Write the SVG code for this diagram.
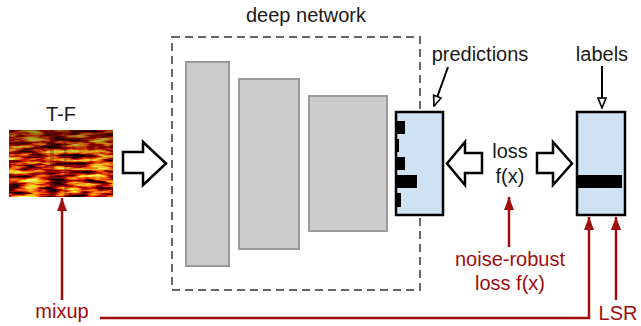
<svg xmlns="http://www.w3.org/2000/svg" width="641" height="326" viewBox="0 0 641 326">
<style>
text{font-family:"Liberation Sans",Arial,sans-serif;font-size:20px;fill:#1a1a1a;text-anchor:middle}
text.red{fill:#a00d0d}
.layer{fill:#cccccc;stroke:#9a9a9a;stroke-width:2}
.out{fill:#cfe2f3;stroke:#000;stroke-width:2.5}
.bar{fill:#000}
.block{fill:#fff;stroke:#000;stroke-width:2.5;stroke-linejoin:miter}
.ptr{fill:none;stroke:#000;stroke-width:2}
.redln{fill:none;stroke:#a00d0d;stroke-width:2.5}
</style>
<defs>
<marker id="open" markerUnits="userSpaceOnUse" viewBox="0 0 12 10" refX="11" refY="5" markerWidth="12" markerHeight="10" orient="auto">
<path d="M1,1 L11,5 L1,9 Z" fill="#fff" stroke="#000" stroke-width="1.6"/>
</marker>
<marker id="red" markerUnits="userSpaceOnUse" viewBox="0 0 13 10" refX="13" refY="5" markerWidth="13" markerHeight="10" orient="auto">
<path d="M0,0 L13,5 L0,10 Z" fill="#a00d0d"/>
</marker>
<filter id="spec" x="0" y="0" width="1" height="1" color-interpolation-filters="sRGB">
<feTurbulence type="fractalNoise" baseFrequency="0.045 0.24" numOctaves="3" seed="11"/>
<feColorMatrix type="matrix" values="3.2 0 0 0 -0.75  3.4 0 0 0 -1.55  1.6 0 0 0 -0.95  0 0 0 0 1"/>
</filter>
<linearGradient id="shade" x1="0" y1="0" x2="0" y2="1">
<stop offset="0" stop-color="#2a0500" stop-opacity="0.5"/>
<stop offset="0.4" stop-color="#2a0500" stop-opacity="0.12"/>
<stop offset="1" stop-color="#2a0500" stop-opacity="0"/>
</linearGradient>
</defs>

<g id="spectrogram">
<rect x="9" y="130" width="104" height="67" fill="#a83000"/>
<rect x="9" y="130" width="104" height="67" filter="url(#spec)"/>
<rect x="9" y="130" width="104" height="67" fill="url(#shade)"/>
<rect x="50" y="130" width="4" height="67" fill="#3a0800" opacity="0.3"/>
<rect x="64" y="130" width="3" height="67" fill="#3a0800" opacity="0.25"/>
<text x="61" y="121">T-F</text>
</g>

<g id="deep-network">
<rect x="172" y="37" width="248" height="253" fill="none" stroke="#666" stroke-width="2" stroke-dasharray="8 5"/>
<text x="306" y="22">deep network</text>
</g>
<g id="layer1"><rect class="layer" x="186" y="62" width="43" height="204"/></g>
<g id="layer2"><rect class="layer" x="239" y="79" width="60" height="170"/></g>
<g id="layer3"><rect class="layer" x="309" y="96" width="78" height="135"/></g>

<g id="predictions">
<rect class="out" x="396" y="112" width="47" height="103"/>
<rect class="bar" x="395" y="121" width="10" height="13"/>
<rect class="bar" x="395" y="139" width="4" height="13"/>
<rect class="bar" x="395" y="157" width="10" height="13"/>
<rect class="bar" x="395" y="175" width="22" height="13"/>
<rect class="bar" x="395" y="193" width="6" height="14"/>
<text x="480" y="61">predictions</text>
</g>

<g id="labels">
<rect class="out" x="577" y="112" width="48" height="103"/>
<rect class="bar" x="577" y="175" width="45" height="13"/>
<text x="602" y="61">labels</text>
</g>

<g id="loss">
<text x="510" y="158">loss</text>
<text x="510" y="183">f(x)</text>
</g>

<g id="noise-robust">
<text class="red" x="510" y="266">noise-robust</text>
<text class="red" x="510" y="290">loss f(x)</text>
</g>

<g id="mixup"><text class="red" x="62" y="318">mixup</text></g>
<g id="lsr"><text class="red" x="618" y="320">LSR</text></g>

<g id="connectors">
<path class="block" d="M123,152 H143 V142 L166,163.5 L143,185 V173 H123 Z"/>
<path class="block" d="M482,153 H465 V142 L447,163.5 L465,185 V173 H482 Z"/>
<path class="block" d="M537,153 H553 V142 L572,163.5 L553,185 V173 H537 Z"/>
<line class="ptr" x1="448" y1="67" x2="434" y2="106" marker-end="url(#open)"/>
<line class="ptr" x1="602" y1="66" x2="602" y2="108" marker-end="url(#open)"/>
<line class="redln" x1="62" y1="300" x2="62" y2="198" marker-end="url(#red)"/>
<line class="redln" x1="509" y1="247" x2="509" y2="197" marker-end="url(#red)"/>
<polyline class="redln" points="100,318 589,318 589,217" marker-end="url(#red)"/>
<line class="redln" x1="616" y1="300" x2="616" y2="217" marker-end="url(#red)"/>
</g>
</svg>
